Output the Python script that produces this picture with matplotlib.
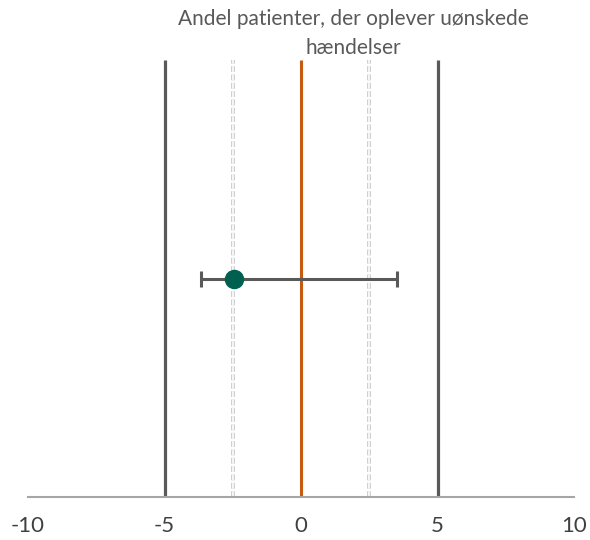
import matplotlib.pyplot as plt
import matplotlib.patheffects as pe

plt.rcParams['font.family'] = ['Lato', 'DejaVu Sans']

title = "Andel patienter, der oplever uønskede\nhændelser"
xticks = [-10, -5, 0, 5, 10]
limit_x = [-5, 5]          # ydre grænser
inner_x = [-2.5, 2.5]      # stiplede grænser
ref_x = 0
est_x = -2.45
est_y = 0.5
ci_low = -3.66
ci_high = 3.52

fig = plt.figure(figsize=(5.9, 5.4), dpi=100)
ax = fig.add_axes([28/590, 43/540, 546/590, 437/540])

for x in limit_x:
    ax.plot([x, x], [0, 1], color='#595959', lw=2.3, solid_capstyle='butt')
for x in inner_x:
    ax.plot([x, x], [0, 1], color='#ffffff', lw=1.2, dashes=(3.5, 1.5),
            path_effects=[pe.Stroke(linewidth=2.6, foreground='#c4c4c4'), pe.Normal()])
ax.plot([ref_x, ref_x], [0, 1], color='#c55a11', lw=2.2, solid_capstyle='butt')

ax.errorbar([est_x], [est_y], xerr=[[est_x - ci_low], [ci_high - est_x]],
            fmt='o', color='#00604f', ms=13, ecolor='#595959', elinewidth=2.2,
            capsize=6, capthick=2.2, zorder=5)

ax.set_xlim(-10, 10)
ax.set_ylim(0, 1)
for s in ['top', 'right', 'left']:
    ax.spines[s].set_visible(False)
ax.spines['bottom'].set_color('#a6a6a6')
ax.spines['bottom'].set_linewidth(1.5)
ax.set_yticks([])
ax.set_xticks(xticks)
ax.set_xticklabels([str(t) for t in xticks])
ax.tick_params(axis='x', length=0, pad=14, labelsize=16, labelcolor='#404040')

fig.text(353/590, 1 - 9/540, title, ha='center', va='top', fontsize=15,
         color='#595959', linespacing=1.55)

fig.savefig('out.png', dpi=100)
